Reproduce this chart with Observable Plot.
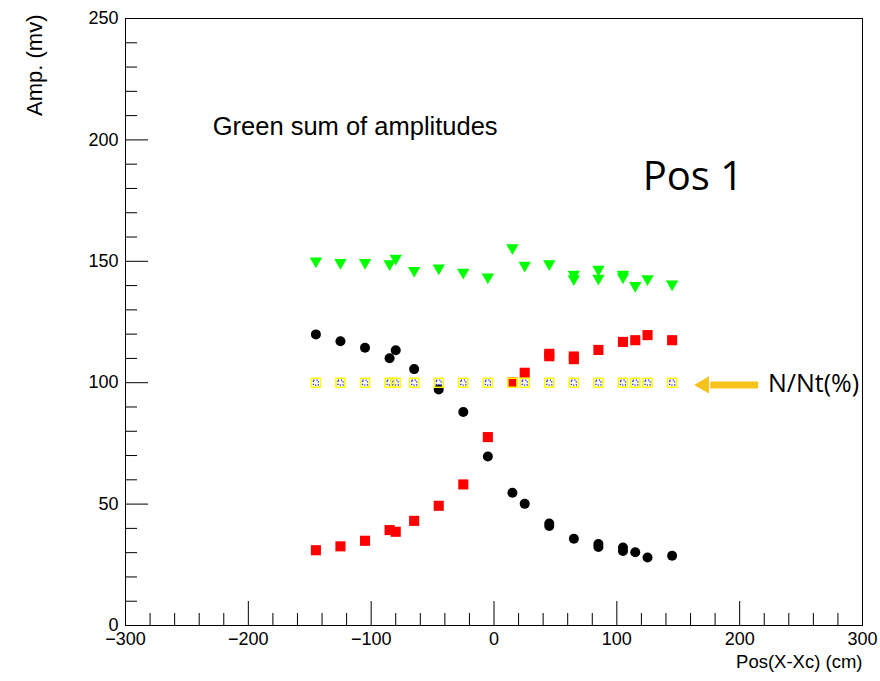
<!DOCTYPE html>
<html>
<head>
<meta charset="utf-8">
<script src="https://cdn.jsdelivr.net/npm/d3@7"></script>
<script src="https://cdn.jsdelivr.net/npm/@observablehq/plot@0.6"></script>
<style>
  html, body { margin: 0; padding: 0; background: #fff; }
  #chart svg { display: block; }
</style>
</head>
<body>
<div id="chart"></div>
<script>
// ---- data ----
const posBlack = [-145, -125, -105, -85, -80, -65, -45, -25, -5, 15, 25, 45, 45, 65, 85, 85, 105, 105, 115, 125, 145];
const ampBlack = [119.9, 117.1, 114.4, 110.1, 113.4, 105.6, 97.2, 87.9, 69.6, 54.7, 50.1, 42.0, 41.0, 35.7, 33.6, 32.3, 32.1, 30.7, 30.2, 28.0, 28.7];

const posRed = [-145, -125, -105, -85, -80, -65, -45, -25, -5, 15, 25, 45, 45, 65, 65, 85, 105, 115, 125, 145];
const ampRed = [31.0, 32.6, 34.9, 39.3, 38.6, 43.1, 49.3, 58.1, 77.6, 100.1, 104.1, 111.9, 110.9, 110.8, 109.7, 113.5, 116.8, 117.5, 119.6, 117.5];

const posGreen = [-145, -125, -105, -85, -80, -65, -45, -25, -5, 15, 25, 45, 65, 65, 85, 85, 105, 105, 115, 125, 145];
const ampGreen = [150.1, 149.5, 149.5, 149.0, 151.2, 146.2, 147.2, 145.5, 143.5, 155.5, 148.3, 149.0, 144.6, 142.8, 146.7, 143.0, 144.6, 143.5, 140.0, 142.8, 140.6];

const posRatio = [-145, -125, -105, -85, -80, -65, -45, -25, -5, 15, 25, 45, 65, 85, 105, 115, 125, 145];
const valRatio = [100, 100, 100, 100, 100, 100, 100, 100, 100, 100, 100, 100, 100, 100, 100, 100, 100, 100];

// ---- axis ticks ----
const xMajor = [-300, -200, -100, 0, 100, 200, 300];
const xMinor = [-280, -260, -240, -220, -180, -160, -140, -120, -80, -60, -40, -20, 20, 40, 60, 80, 120, 140, 160, 180, 220, 240, 260, 280];
const yMajor = [0, 50, 100, 150, 200, 250];
const yMinor = [10, 20, 30, 40, 60, 70, 80, 90, 110, 120, 130, 140, 160, 170, 180, 190, 210, 220, 230, 240];

// ---- texts ----
const xTitle = "Pos(X-Xc) (cm)";
const yTitle = "Amp. (mv)";
const noteTitle = "Green sum of amplitudes";
const posLabel = "Pos 1";
const ratioLabel = "N/Nt(%)";

const rows = (xs, ys) => xs.map((x, i) => ({x, y: ys[i]}));
const black = rows(posBlack, ampBlack);
const red = rows(posRed, ampRed);
const green = rows(posGreen, ampGreen);
const ratio = rows(posRatio, valRatio);

const sans = "'Liberation Sans', Arial, Helvetica, sans-serif";
const office = "'Open Sans', 'Noto Sans', sans-serif";
const gold = "#f7c21c";

// annotation anchors (data space)
const arrowShaft = [{x1: 176, x2: 215, y: 99.1}];
const arrowHead = [{x: 171, y: 99.1}];

const chart = Plot.plot({
  width: 880,
  height: 681,
  marginLeft: 125,
  marginRight: 18,
  marginTop: 18,
  marginBottom: 56,
  style: {fontFamily: sans, fontSize: "18px", background: "#fff", color: "#000"},
  x: {domain: [-300, 300], axis: null},
  y: {domain: [0, 250], axis: null},
  marks: [
    // data markers
    Plot.dot(black, {x: "x", y: "y", r: 5, fill: "#000", symbol: "circle"}),
    Plot.dot(ratio, {x: "x", y: "y", r: 2.8, symbol: "square", fill: "none", stroke: "#2020ff", strokeWidth: 1.3, strokeDasharray: "1.2,1.8"}),
    Plot.dot(red, {x: "x", y: "y", r: 5.7, fill: "#ff0000", symbol: "square"}),
    Plot.dot(ratio, {x: "x", y: "y", r: 5.1, symbol: "square", fill: "none", stroke: "#ffff00", strokeWidth: 1.6}),
    Plot.dot(green, {x: "x", y: "y", r: 4.6, fill: "#00ff00", symbol: "triangle", rotate: 180}),

    // annotations
    Plot.link(arrowShaft, {x1: "x1", x2: "x2", y1: "y", y2: "y", stroke: gold, strokeWidth: 7}),
    Plot.dot(arrowHead, {x: "x", y: "y", symbol: "triangle", r: 6.4, fill: gold, rotate: -90}),
    Plot.text([ratioLabel], {x: 223, y: 99.3, text: d => d, textAnchor: "start", fontFamily: office, fontSize: 25, fill: "#000"}),
    Plot.text([noteTitle], {x: -229, y: 205.3, text: d => d, textAnchor: "start", fontFamily: sans, fontSize: 25.5, fill: "#000"}),
    Plot.text([posLabel], {x: 121, y: 184.8, text: d => d, textAnchor: "start", fontFamily: office, fontSize: 40, fill: "#000"}),

    // axes (ROOT style: inside ticks)
    Plot.axisY(yMajor, {anchor: "left", tickSize: -23, fill: "none", label: null}),
    Plot.axisY(yMinor, {anchor: "left", tickSize: -12, fill: "none", label: null}),
    Plot.axisY(yMajor, {anchor: "left", tickSize: 0, tickPadding: 7, fontSize: 18, label: null}),
    Plot.axisX(xMajor, {anchor: "bottom", tickSize: -24, fill: "none", label: null}),
    Plot.axisX(xMinor, {anchor: "bottom", tickSize: -12, fill: "none", label: null}),
    Plot.axisX(xMajor, {anchor: "bottom", tickSize: 0, tickPadding: 7, fontSize: 18, label: null}),

    // axis titles
    Plot.text([yTitle], {frameAnchor: "top-left", dx: -99, dy: -4, rotate: -90, text: d => d, textAnchor: "end", fontSize: 22, fontFamily: sans}),
    Plot.text([xTitle], {frameAnchor: "bottom-right", dx: 0, dy: 42, text: d => d, textAnchor: "end", fontSize: 18.5, fontFamily: sans}),

    Plot.frame({stroke: "#000", strokeWidth: 1})
  ]
});

document.getElementById("chart").appendChild(chart);
</script>
</body>
</html>
